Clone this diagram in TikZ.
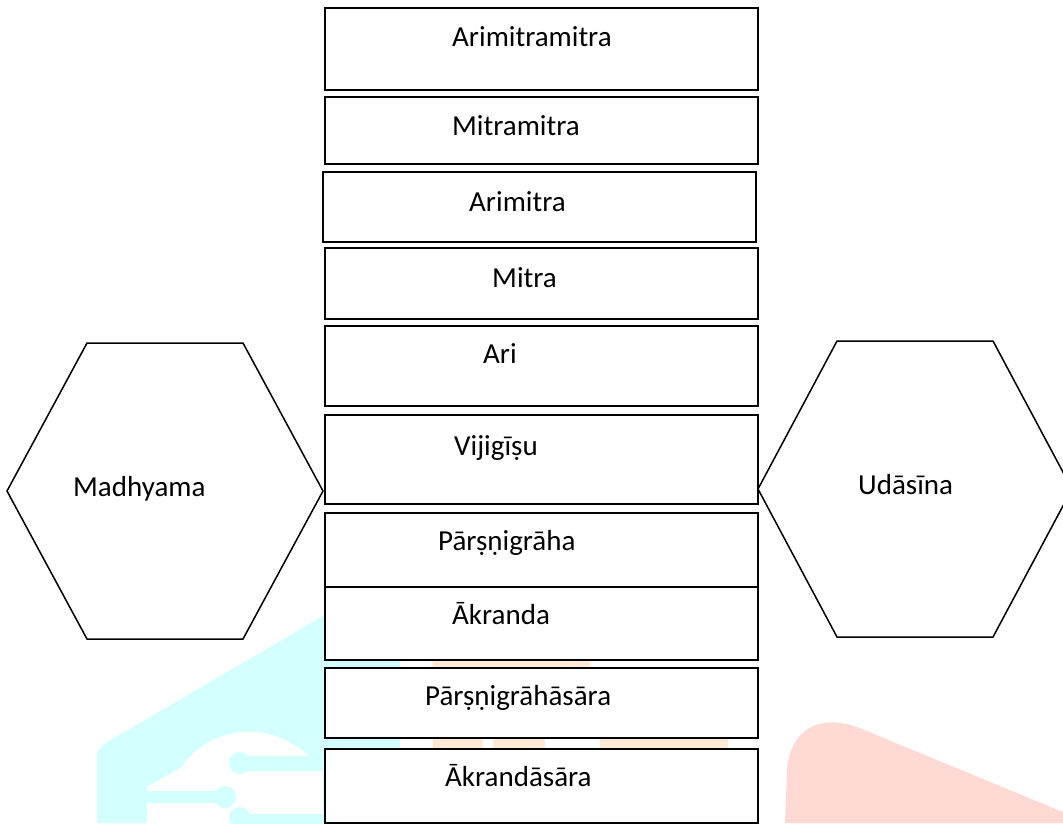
\documentclass[tikz,border=0pt]{standalone}
\usepackage{fontspec}
\setmainfont{Carlito}
\definecolor{wmcyan}{RGB}{212,255,255}
\definecolor{wmorange}{RGB}{255,234,214}
\definecolor{wmred}{RGB}{255,218,212}
\tikzset{
  box/.style={draw=black, line width=2pt, fill=white, rectangle, inner sep=0pt, anchor=north west},
  hexa/.style={draw=black, line width=1.5pt, fill=white, line join=miter},
  txt/.style={inner sep=0pt, anchor=base west, font=\fontsize{29}{34}\selectfont}
}
\begin{document}
\begin{tikzpicture}[x=1pt,y=-1pt]
\useasboundingbox (0,0) rectangle (1063,823);
\clip (0,0) rectangle (1063,823);
% watermark (pale)
\fill[wmcyan] (323,616) -- (104,744) -- (97,752) -- (97,823) -- (400,823) -- (400,616) -- cycle;
\fill[white] (147,823) -- (147,787) -- (182,767) .. controls (200,735) and (262,712) .. (310,757) -- (323,757) -- (323,823) -- cycle;
\draw[wmcyan, line width=15pt] (240,763) -- (323,763);
\fill[wmcyan] (240,763) circle (11);
\draw[wmcyan, line width=12pt] (147,797) -- (225,797);
\fill[wmcyan] (225,797) circle (11);
\draw[wmcyan, line width=12pt] (240,820) -- (323,820);
\fill[wmcyan] (240,818) circle (11);
\fill[wmorange] (433,655) rectangle (590,672);
\fill[wmorange] (433,733) rectangle (483,752);
\fill[wmorange] (493,733) rectangle (545,752);
\fill[wmorange] (600,733) rectangle (728,752);
\fill[wmred] (785,823) -- (787,770) .. controls (790,728) and (822,712) .. (862,729) -- (1063,812) -- (1063,823) -- cycle;
% boxes
\node[box, minimum width=433pt, minimum height=82pt] (b1) at (324,7) {};
\node[box, minimum width=433pt, minimum height=67pt] (b2) at (324,96) {};
\node[box, minimum width=433pt, minimum height=70pt] (b3) at (322,171) {};
\node[box, minimum width=433pt, minimum height=71pt] (b4) at (324,247) {};
\node[box, minimum width=433pt, minimum height=80pt] (b5) at (324,325) {};
\node[box, minimum width=433pt, minimum height=89pt] (b6) at (324,414) {};
\node[box, minimum width=433pt, minimum height=74pt] (b7) at (324,512) {};
\node[box, minimum width=433pt, minimum height=73pt] (b8) at (324,586) {};
\node[box, minimum width=433pt, minimum height=70pt] (b9) at (324,667) {};
\node[box, minimum width=433pt, minimum height=74pt] (b10) at (324,748) {};
\node[txt] (t1) at (452,46) {Arimitramitra};
\node[txt] (t2) at (452,135) {Mitramitra};
\node[txt] (t3) at (469,211) {Arimitra};
\node[txt] (t4) at (492,287) {Mitra};
\node[txt] (t5) at (483,363) {Ari};
\node[txt] (t6) at (454,455) {Vijigīṣu};
\node[txt] (t7) at (438,550) {Pārṣṇigrāha};
\node[txt] (t8) at (452,624) {Ākranda};
\node[txt] (t9) at (425,705) {Pārṣṇigrāhāsāra};
\node[txt] (t10) at (445,786) {Ākrandāsāra};
% hexagons
\coordinate (hl) at (165,491);
\coordinate (hr) at (915,489);
\draw[hexa] (7,491) -- (87,343) -- (243,343) -- (323,491) -- (243,639) -- (87,639) -- cycle;
\draw[hexa] (758,489) -- (837,341) -- (993,341) -- (1072,489) -- (993,637) -- (837,637) -- cycle;
\node[txt] (m) at (73,496) {Madhyama};
\node[txt] (u) at (858,494) {Udāsīna};
\end{tikzpicture}
\end{document}
